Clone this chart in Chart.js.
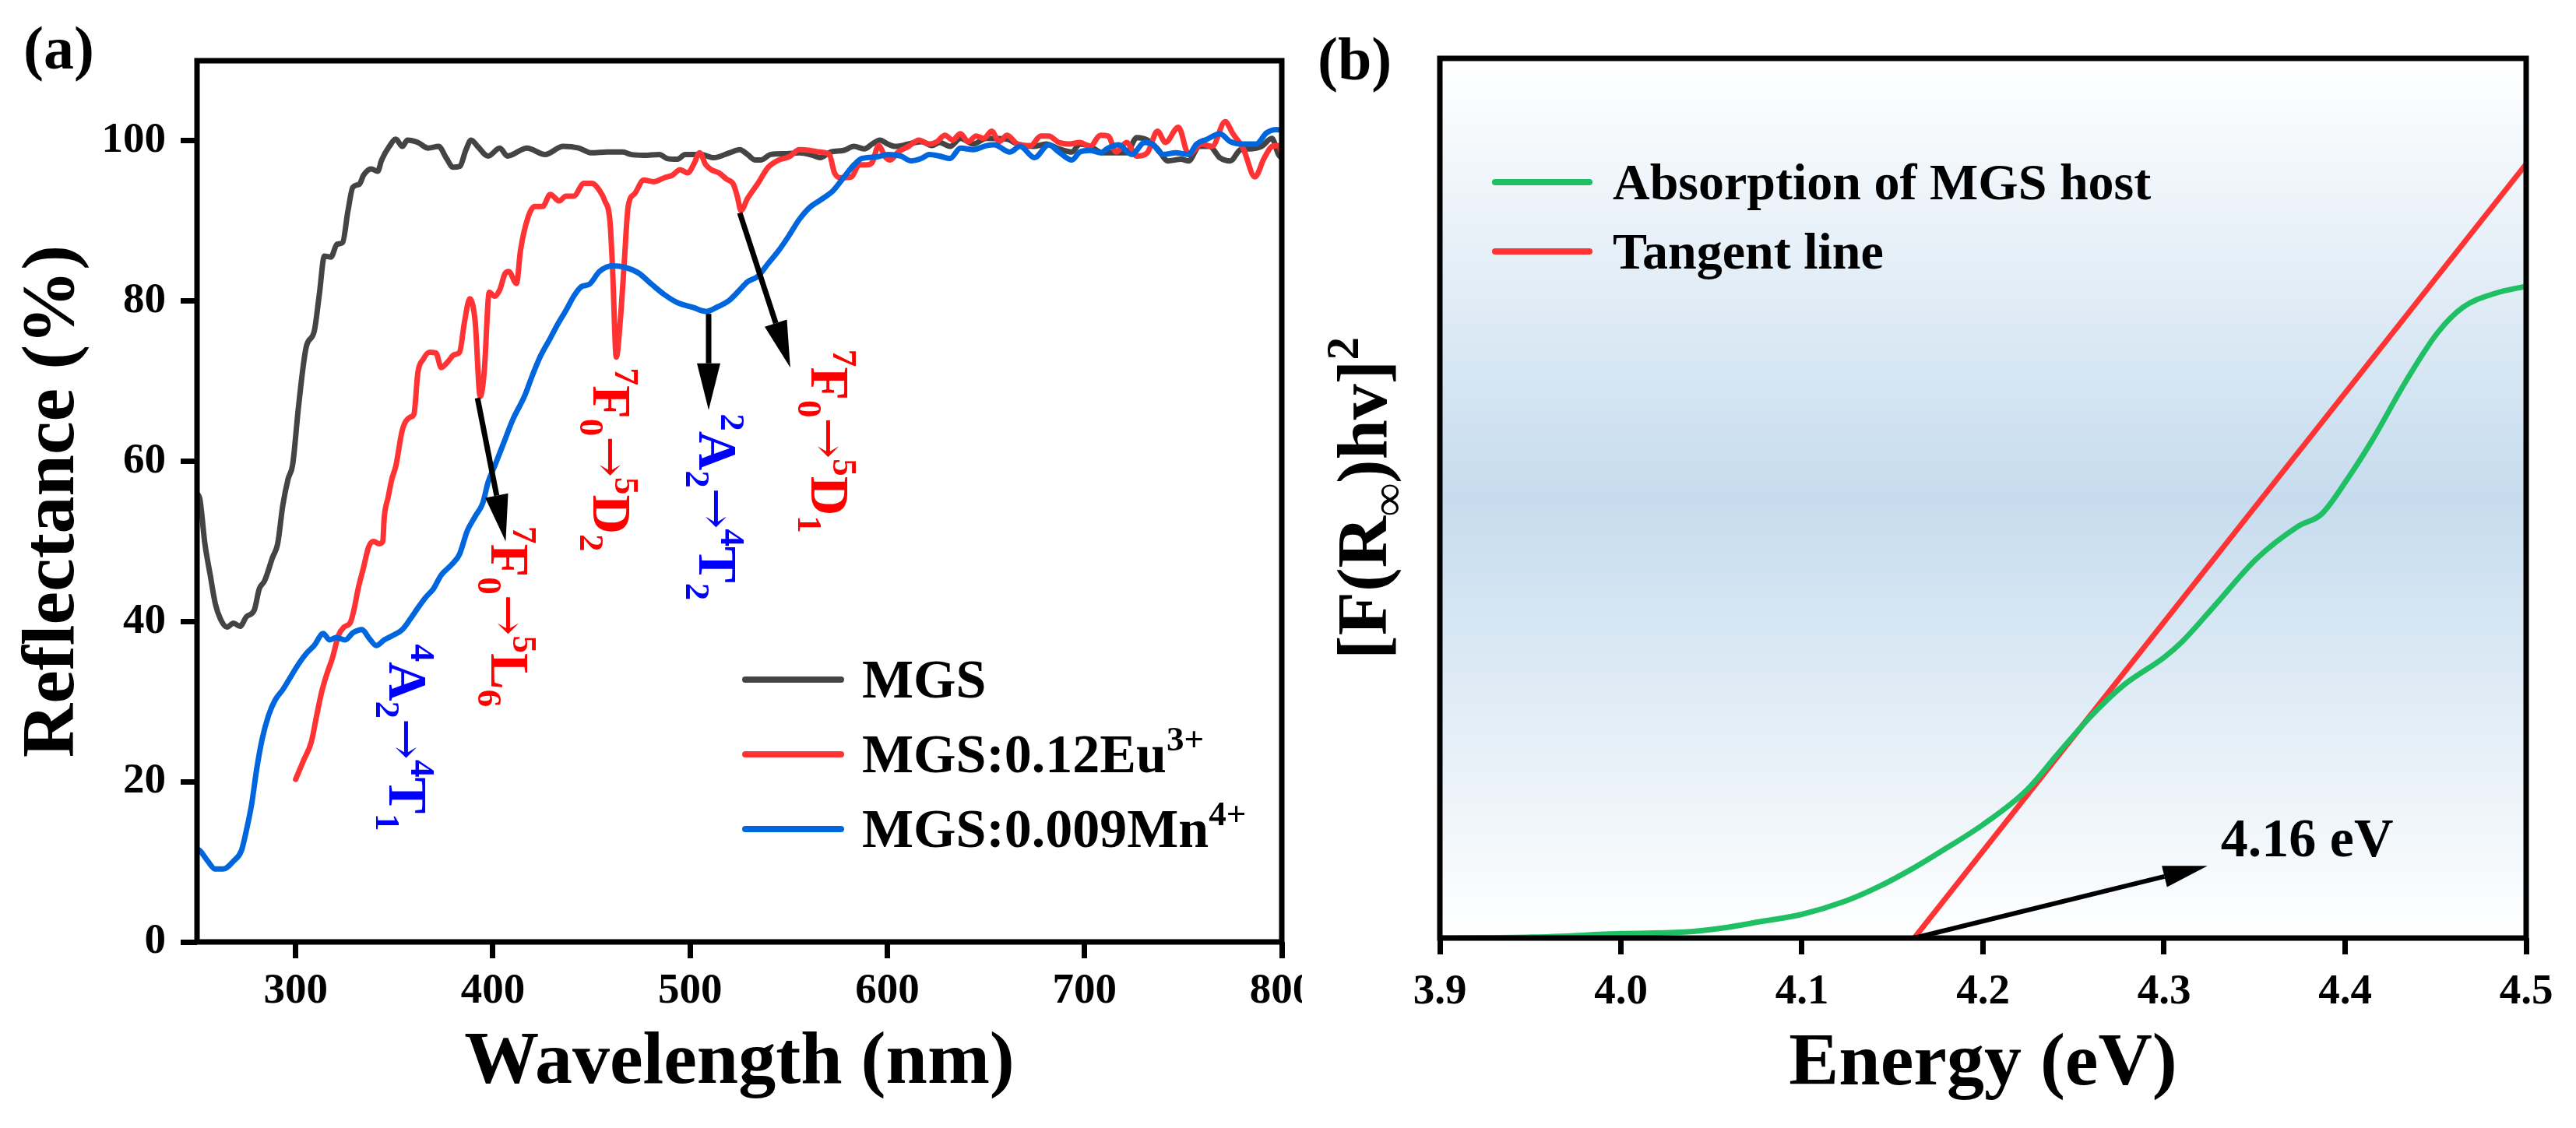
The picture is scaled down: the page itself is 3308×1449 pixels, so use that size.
<!DOCTYPE html>
<html>
<head>
<meta charset="utf-8">
<title>MGS reflectance and band gap</title>
<script src="https://cdn.jsdelivr.net/npm/chart.js@4.4.1/dist/chart.umd.min.js"></script>
<style>
  body { margin: 0; background: #fff; }
  #wrap { position: relative; width: 3308px; height: 1449px; overflow: hidden; }
  .panel { position: absolute; top: 0; height: 1449px; }
</style>
</head>
<body>
<div id="wrap">
  <div class="panel" style="left:0; width:1672px;"><canvas id="chartA"></canvas></div>
  <div class="panel" style="left:1672px; width:1636px;"><canvas id="chartB"></canvas></div>
</div>
<script>
const SERIF = "'Liberation Serif', 'Times New Roman', Times, serif";
const ARROW_FONT = "'DejaVu Serif', 'DejaVu Sans', serif";

// ---- (a) diffuse reflectance ----
const mgsWl = [250, 251.5, 254, 256.7, 259.3, 261.9, 265.2, 268.5, 271.8, 275.1, 279, 281.6, 284.3, 288.3, 290.9,
  293.5, 296.2, 298.5, 301.5, 305.4, 309.4, 312, 314.6, 317.9, 321, 323.8, 326.5, 329, 332.4, 334.4, 338.3, 341.6,
  343.6, 347.5, 350.8, 354.1, 356.7, 362, 367.2, 372.5, 376.5, 379.8, 383.1, 386.4, 389, 392.3, 397.6, 403.5, 407.4,
  417.3, 426.5, 435.6, 443.5, 450.1, 458, 466, 469.9, 476.5, 484.4, 488.3, 493.6, 497.5, 505.4, 512, 519.9, 525.2,
  529.1, 533.1, 535.7, 541, 548.9, 555.4, 562, 566, 571.2, 577.8, 583.1, 588.3, 592.3, 596.2, 600.2, 604.1, 610.7,
  617.3, 622.6, 626.5, 631.8, 637.1, 643.6, 650.2, 660.7, 666, 674, 680.5, 687, 693.6, 697.6, 702.8, 709.4, 716,
  721.3, 726.5, 731.8, 737, 742.3, 748.9, 752.8, 758.1, 763.4, 768.6, 773.9, 779.2, 784.4, 789.7, 795, 798.3, 800];
const mgsR = [56.0, 55.2, 49.7, 45.8, 42.2, 40.3, 39.3, 39.8, 39.4, 40.6, 41.4, 44.1, 45.1, 48.0, 49.7,
  54.5, 57.8, 59.6, 66.9, 74.3, 76.2, 80.8, 85.6, 85.5, 87.1, 87.3, 91.2, 94.2, 94.6, 95.7, 96.5, 96.2,
  97.6, 99.3, 100.2, 99.3, 100.1, 99.8, 99.1, 99.3, 97.8, 96.7, 96.8, 98.9, 100.1, 99.3, 98.1, 99.1, 98.1,
  99.1, 98.3, 99.3, 99.1, 98.5, 98.6, 98.6, 98.3, 98.2, 98.3, 97.8, 97.7, 98.3, 98.3, 97.9, 98.5, 98.9,
  98.3, 97.6, 97.6, 98.3, 98.4, 98.5, 98.2, 97.9, 98.6, 98.8, 99.3, 99.0, 99.6, 100.1, 99.6, 99.3, 99.6,
  99.9, 99.4, 99.8, 99.3, 100.3, 99.6, 100.3, 100.2, 99.6, 99.3, 99.6, 99.0, 98.6, 99.6, 99.3, 98.5, 98.5,
  98.5, 100.4, 100.1, 99.0, 97.5, 97.7, 97.5, 99.3, 99.3, 97.9, 97.5, 98.9, 99.0, 99.3, 100.3, 98.3, 97.8];

const euWl = [300, 304.1, 308, 310.7, 313.2, 315.9, 318.6, 321.8, 324.5, 327.8, 329.7, 331.7, 334.4, 337, 339.6,
  342.3, 344.2, 344.9, 346.9, 348.8, 350.8, 354.1, 358.1, 360, 362, 364.6, 367.9, 371.2, 373.8, 377.1, 380.4,
  383.1, 385.7, 388.3, 391, 393.6, 395.6, 398.2, 400.9, 403.5, 406.1, 408, 412, 414, 417.9, 421.2, 425.2, 429.1,
  433.7, 437, 441, 446.2, 450.2, 454.1, 456.8, 459.4, 460.7, 462.6, 464.6, 466.6, 468.6, 471.9, 476.5, 481.7,
  487, 491, 494.9, 498.8, 502.1, 504.8, 508, 510.7, 514.6, 518.6, 521.9, 523.9, 525.8, 529.1, 534.4, 539.6,
  544.9, 550.2, 555.4, 560.7, 566, 570.6, 573.2, 576.5, 581.8, 585.7, 589.7, 592.3, 595.6, 598.9, 601.5, 605.5,
  610.7, 616, 621.3, 625.2, 629.2, 633.1, 637.1, 641, 645, 648.9, 652.9, 656.8, 660.7, 666, 672.6, 677.8, 681.8,
  687, 692.3, 697.6, 702.8, 708.1, 712, 716, 721.3, 726.5, 731.8, 737, 741, 747.6, 752.8, 759.4, 764.7, 771.3,
  775.2, 780.5, 786.4, 791, 795.1, 798.4, 800];
const euR = [20.3, 22.7, 25.0, 28.3, 31.2, 33.5, 35.4, 38.3, 39.3, 39.9, 41.6, 44.1, 46.7, 49.3, 50.0,
  49.7, 50.0, 52.9, 55.5, 57.8, 59.4, 63.9, 65.5, 65.9, 71.1, 72.7, 73.6, 73.5, 71.7, 72.4, 73.3,
  73.6, 77.5, 80.3, 77.5, 68.1, 71.1, 81.1, 80.6, 81.4, 83.4, 83.7, 82.2, 86.3, 90.5, 91.8, 91.8, 93.3,
  92.5, 93.1, 93.1, 94.7, 94.7, 93.8, 92.5, 89.9, 84.0, 73.0, 77.5, 84.7, 91.8, 93.4, 95.1, 94.9,
  95.4, 95.7, 96.4, 96.0, 97.2, 98.5, 97.0, 96.4, 96.0, 95.2, 94.6, 93.1, 91.3, 92.8, 94.7, 96.7,
  97.6, 98.0, 98.9, 98.8, 98.6, 98.3, 96.0, 95.4, 95.5, 97.0, 97.0, 97.3, 99.4, 98.0, 97.6, 98.6,
  99.3, 100.1, 99.6, 99.9, 100.7, 100.1, 100.9, 99.9, 100.6, 100.3, 101.2, 99.9, 100.7, 99.6, 99.4, 100.6, 100.6,
  99.8, 99.6, 99.8, 99.3, 100.7, 100.6, 98.6, 99.8, 98.1, 98.5, 101.2, 99.8, 101.7, 98.3, 99.6, 99.3, 102.4,
  100.9, 99.0, 95.5, 97.8, 99.3, 99.4, 98.5];

const mnWl = [250, 251.5, 255.4, 259.3, 263.3, 268.5, 272.5, 275.1, 277.7, 280.4, 283, 286.3, 289.6, 293.5, 297.5,
  301.5, 305.4, 309.4, 314, 317.2, 320.5, 325.1, 329.1, 333.7, 337, 340.9, 344.9, 348.8, 354.1, 358.1, 362,
  365.9, 369.9, 373.8, 379.1, 383.1, 387, 391, 394.9, 397.6, 400.9, 405.5, 410.1, 416, 420, 423.9, 429.2, 433.1,
  437, 441, 444.9, 448.9, 454.1, 460.7, 467.3, 473.9, 480.5, 487, 493.6, 501.5, 508, 513.3, 519.9, 525.2, 529.1,
  534.4, 539.6, 544.9, 550.2, 555.4, 560.7, 566, 572.6, 577.8, 583.1, 587, 594.9, 600.2, 606.8, 612, 617.3, 621.3,
  626.5, 631.8, 637.1, 643.6, 650.2, 654.2, 662.1, 667.3, 674.6, 681.8, 687, 693.6, 697.6, 702.8, 708.1, 712,
  717.3, 723.9, 730.5, 734.4, 739.7, 746.3, 752.8, 756.8, 762.1, 768.6, 773.9, 779.2, 787, 792.3, 797.5, 800];
const mnR = [11.6, 11.4, 10.1, 9.1, 9.1, 10.1, 11.4, 14.0, 17.2, 21.8, 25.3, 28.3, 30.2, 31.5, 33.1,
  34.7, 36.0, 37.0, 38.5, 37.7, 38.0, 37.7, 38.6, 39.0, 38.0, 37.0, 37.7, 38.2, 39.0, 40.3, 41.7,
  43.0, 44.1, 45.8, 47.1, 48.4, 51.3, 53.1, 54.8, 57.4, 59.4, 62.3, 65.2, 68.1, 70.7, 73.0, 75.4, 77.2,
  78.8, 80.6, 81.8, 82.1, 83.7, 84.4, 84.2, 83.5, 82.1, 80.8, 79.8, 79.2, 78.7, 79.2, 80.1, 81.4, 82.4,
  83.1, 84.7, 86.3, 88.2, 90.2, 91.7, 92.6, 93.8, 95.4, 97.0, 97.8, 98.0, 98.3, 98.1, 97.5, 97.8, 98.3,
  98.1, 97.8, 99.1, 98.9, 99.4, 99.5, 98.6, 99.3, 97.9, 99.5, 98.6, 97.6, 98.6, 98.8, 98.5, 99.1,
  99.5, 98.3, 99.8, 99.6, 98.3, 98.5, 98.3, 99.6, 100.2, 100.9, 99.9, 99.6, 99.6, 101.0, 101.4, 101.3];

const wlTicks = [300, 400, 500, 600, 700, 800];
const reflTicks = [0, 20, 40, 60, 80, 100];

// ---- (b) Kubelka-Munk plot, arbitrary units ----
const hostE = [3.9, 3.951, 4.0, 4.037, 4.055, 4.078, 4.1, 4.124, 4.142, 4.162, 4.178, 4.2, 4.224, 4.242, 4.26,
  4.278, 4.3, 4.31, 4.328, 4.351, 4.374, 4.387, 4.401, 4.415, 4.433, 4.451, 4.465, 4.483, 4.5];
const hostF = [0, 0.001, 0.005, 0.007, 0.011, 0.019, 0.027, 0.042, 0.058, 0.080, 0.100, 0.129, 0.168, 0.211, 0.253,
  0.288, 0.319, 0.337, 0.378, 0.431, 0.468, 0.482, 0.521, 0.566, 0.631, 0.688, 0.717, 0.733, 0.741];
const tangentE = [4.162, 4.5];
const tangentF = [0, 0.88];
const energyTicks = [3.9, 4.0, 4.1, 4.2, 4.3, 4.4, 4.5];

// labels drawn on top of the plots (data units)
const transitionsA = [
  { text: '^4A_2→^4T_1', x: 356.6, y: 25.5, color: '#0000ff' },
  { text: '^7F_0→^5L_6', x: 408.3, y: 40.6, color: '#ff0000' },
  { text: '^7F_0→^5D_2', x: 460.0, y: 60.2, color: '#ff0000' },
  { text: '^2A_2→^4T_2', x: 513.7, y: 54.3, color: '#0000ff' },
  { text: '^7F_0→^5D_1', x: 570.6, y: 62.5, color: '#ff0000' }
];
const arrowsA = [
  { from: [392.2, 67.9], to: [406.5, 50.0] },
  { from: [509.4, 78.4], to: [509.4, 66.4] },
  { from: [525.2, 91.0], to: [550.8, 71.7] }
];
const labelsB = [{ text: '4.16 eV', x: 4.379, y: 0.113, color: '#000' }];
const arrowsB = [{ from: [4.162, 0.0], to: [4.324, 0.082] }];

const toXY = (xs, ys) => xs.map((x, i) => ({ x: x, y: ys[i] }));

// "^" = superscript, "_" = subscript, braces group several chars
function parseRich(str) {
  const parts = [];
  let i = 0;
  while (i < str.length) {
    const c = str[i];
    if (c === '^' || c === '_') {
      const mode = c === '^' ? 'sup' : 'sub';
      i++;
      let t;
      if (str[i] === '{') {
        const j = str.indexOf('}', i);
        t = str.slice(i + 1, j);
        i = j + 1;
      } else {
        t = str[i];
        i++;
      }
      parts.push({ t: t, mode: mode });
    } else if (c === '→') {
      parts.push({ t: c, mode: 'arrow' });
      i++;
    } else {
      let j = i;
      while (j < str.length && !'^_→'.includes(str[j])) j++;
      parts.push({ t: str.slice(i, j), mode: '' });
      i = j;
    }
  }
  return parts;
}

function drawRich(ctx, str, x, y, opts) {
  const size = opts.size;
  const weight = opts.weight || 'bold';
  const parts = parseRich(str);
  const small = Math.round(size * 0.64);
  const fontFor = p => {
    if (p.mode === 'arrow') return `normal ${Math.round(size * 0.9)}px ${ARROW_FONT}`;
    return `${weight} ${p.mode ? small : size}px ${SERIF}`;
  };
  ctx.save();
  ctx.translate(x, y);
  ctx.rotate(opts.rotation || 0);
  let w = 0;
  parts.forEach(p => {
    ctx.font = fontFor(p);
    p.w = ctx.measureText(p.t).width;
    w += p.w;
  });
  let cx = opts.align === 'left' ? 0 : -w / 2;
  const base = size * 0.33;
  ctx.fillStyle = opts.color || '#000';
  ctx.textBaseline = 'alphabetic';
  ctx.textAlign = 'left';
  parts.forEach(p => {
    ctx.font = fontFor(p);
    let dy = 0;
    if (p.mode === 'sup') dy = -size * 0.4;
    else if (p.mode === 'sub') dy = size * 0.24;
    else if (p.mode === 'arrow') dy = -size * 0.02;
    ctx.fillText(p.t, cx, base + dy);
    cx += p.w;
  });
  ctx.restore();
}

function drawArrow(ctx, x1, y1, x2, y2, o) {
  const ang = Math.atan2(y2 - y1, x2 - x1);
  const bx = x2 - o.head * Math.cos(ang);
  const by = y2 - o.head * Math.sin(ang);
  const hw = o.headWidth / 2;
  ctx.save();
  ctx.strokeStyle = '#000';
  ctx.fillStyle = '#000';
  ctx.lineWidth = o.width;
  ctx.beginPath();
  ctx.moveTo(x1, y1);
  ctx.lineTo(bx, by);
  ctx.stroke();
  ctx.beginPath();
  ctx.moveTo(x2, y2);
  ctx.lineTo(bx + hw * Math.sin(ang), by - hw * Math.cos(ang));
  ctx.lineTo(bx - hw * Math.sin(ang), by + hw * Math.cos(ang));
  ctx.closePath();
  ctx.fill();
  ctx.restore();
}

// plot frame on all four sides
const framePlugin = {
  id: 'frame',
  afterDatasetsDraw(chart) {
    const { ctx, chartArea: a } = chart;
    ctx.save();
    ctx.strokeStyle = '#000';
    ctx.lineWidth = 7;
    ctx.strokeRect(a.left, a.top, a.right - a.left, a.bottom - a.top);
    ctx.restore();
  }
};

// soft blue band behind panel (b)
const bandPlugin = {
  id: 'band',
  beforeDatasetsDraw(chart, args, opts) {
    if (!opts.on) return;
    const { ctx, chartArea: a } = chart;
    const g = ctx.createLinearGradient(0, a.top, 0, a.bottom);
    g.addColorStop(0, '#ffffff');
    g.addColorStop(0.5, '#c6dcee');
    g.addColorStop(1, '#ffffff');
    ctx.save();
    ctx.fillStyle = g;
    ctx.fillRect(a.left, a.top, a.right - a.left, a.bottom - a.top);
    ctx.restore();
  }
};

// legend with super/subscripts
const richLegend = {
  id: 'richLegend',
  afterDraw(chart, args, o) {
    if (!o.on) return;
    const { ctx, chartArea: a } = chart;
    chart.data.datasets.forEach((ds, i) => {
      const y = a.top + o.top + i * o.gap;
      ctx.save();
      ctx.strokeStyle = ds.borderColor;
      ctx.lineWidth = 8;
      ctx.lineCap = 'round';
      ctx.beginPath();
      ctx.moveTo(a.left + o.left, y);
      ctx.lineTo(a.left + o.left + o.lineLen, y);
      ctx.stroke();
      ctx.restore();
      drawRich(ctx, ds.label, a.left + o.left + o.lineLen + o.textGap, y, { size: o.size, align: 'left' });
    });
  }
};

// arrows, rotated transition labels, axis title and panel tag
const notes = {
  id: 'notes',
  afterDraw(chart, args, o) {
    const { ctx, chartArea: a, scales: { x, y } } = chart;
    (o.arrows || []).forEach(ar => {
      drawArrow(ctx, x.getPixelForValue(ar.from[0]), y.getPixelForValue(ar.from[1]),
        x.getPixelForValue(ar.to[0]), y.getPixelForValue(ar.to[1]), o.arrowStyle);
    });
    (o.labels || []).forEach(l => {
      drawRich(ctx, l.text, x.getPixelForValue(l.x), y.getPixelForValue(l.y),
        { size: o.labelSize, color: l.color, rotation: o.labelRotation });
    });
    if (o.yTitle) {
      drawRich(ctx, o.yTitle, a.left - o.yTitleOffset, (a.top + a.bottom) / 2,
        { size: o.yTitleSize, rotation: -Math.PI / 2 });
    }
    if (o.tag) {
      ctx.save();
      ctx.font = `bold 78px ${SERIF}`;
      ctx.fillStyle = '#000';
      ctx.textBaseline = 'alphabetic';
      ctx.fillText(o.tag.text, o.tag.x, o.tag.y);
      ctx.restore();
    }
  }
};

Chart.register(framePlugin, bandPlugin, richLegend, notes);

const tickFont = { family: SERIF, size: 55, weight: 'bold', lineHeight: 1.2 };
const titleFont = { family: SERIF, size: 96, weight: 'bold', lineHeight: 1.2 };
const noPad = s => { s.paddingLeft = 0; s.paddingRight = 0; s.paddingTop = 0; s.paddingBottom = 0; };

function lineSet(label, data, color, order) {
  return {
    label: label, data: data, borderColor: color, backgroundColor: color,
    borderWidth: 7, pointRadius: 0, cubicInterpolationMode: 'monotone',
    borderJoinStyle: 'round', borderCapStyle: 'round', order: order
  };
}

new Chart(document.getElementById('chartA'), {
  type: 'line',
  data: {
    datasets: [
      lineSet('MGS', toXY(mgsWl, mgsR), '#444444', 3),
      lineSet('MGS:0.12Eu^{3+}', toXY(euWl, euR), '#ff3333', 2),
      lineSet('MGS:0.009Mn^{4+}', toXY(mnWl, mnR), '#0066dd', 1)
    ]
  },
  options: {
    responsive: true,
    maintainAspectRatio: false,
    animation: false,
    layout: { padding: { left: 0, top: 78, right: 26, bottom: 0 } },
    plugins: {
      legend: { display: false },
      tooltip: { enabled: false },
      band: { on: false },
      richLegend: { on: true, left: 704, top: 795, gap: 96, lineLen: 123, textGap: 27, size: 70 },
      notes: {
        arrows: arrowsA,
        arrowStyle: { width: 7, head: 60, headWidth: 30 },
        labels: transitionsA,
        labelSize: 70,
        labelRotation: Math.PI / 2,
        tag: { text: '(a)', x: 30, y: 88 }
      }
    },
    scales: {
      x: {
        type: 'linear', min: 250, max: 800,
        afterBuildTicks: s => { s.ticks = wlTicks.map(v => ({ value: v })); },
        afterFit: s => { s.height = 1449 - 1210; noPad(s); },
        ticks: { color: '#000', padding: 10, font: tickFont, callback: v => String(v) },
        grid: { display: true, drawOnChartArea: false, drawTicks: true, tickLength: 21, tickWidth: 7, color: '#000' },
        border: { display: false },
        title: { display: true, text: 'Wavelength (nm)', color: '#000', font: titleFont, padding: { top: 0, bottom: 25 } }
      },
      y: {
        type: 'linear', min: 0, max: 110,
        afterBuildTicks: s => { s.ticks = reflTicks.map(v => ({ value: v })); },
        afterFit: s => { s.width = 253; noPad(s); },
        ticks: { color: '#000', padding: 19, font: tickFont, callback: v => String(v) },
        grid: { display: true, drawOnChartArea: false, drawTicks: true, tickLength: 21, tickWidth: 7, color: '#000' },
        border: { display: false },
        title: { display: true, text: 'Reflectance (%)', color: '#000', font: titleFont, padding: { top: 12, bottom: 0 } }
      }
    }
  }
});

new Chart(document.getElementById('chartB'), {
  type: 'line',
  data: {
    datasets: [
      lineSet('Absorption of MGS host', toXY(hostE, hostF), '#1fbf64', 1),
      lineSet('Tangent line', toXY(tangentE, tangentF), '#ff3333', 2)
    ]
  },
  options: {
    responsive: true,
    maintainAspectRatio: false,
    animation: false,
    layout: { padding: { left: 0, top: 75, right: 64, bottom: 0 } },
    plugins: {
      legend: { display: false },
      tooltip: { enabled: false },
      band: { on: true },
      richLegend: { on: true, left: 71, top: 159, gap: 89, lineLen: 121, textGap: 30, size: 66 },
      notes: {
        arrows: arrowsB,
        arrowStyle: { width: 6, head: 57, headWidth: 28 },
        labels: labelsB,
        labelSize: 70,
        labelRotation: 0,
        yTitle: '[F(R_∞)hv]^2',
        yTitleSize: 92,
        yTitleOffset: 99,
        tag: { text: '(b)', x: 20, y: 102 }
      }
    },
    scales: {
      x: {
        type: 'linear', min: 3.9, max: 4.5,
        afterBuildTicks: s => { s.ticks = energyTicks.map(v => ({ value: v })); },
        afterFit: s => { s.height = 1449 - 1205; noPad(s); },
        ticks: { color: '#000', padding: 16, font: tickFont, callback: v => Number(v).toFixed(1) },
        grid: { display: true, drawOnChartArea: false, drawTicks: true, tickLength: 21, tickWidth: 7, color: '#000' },
        border: { display: false },
        title: { display: true, text: 'Energy (eV)', color: '#000', font: titleFont, padding: { top: 0, bottom: 23 } }
      },
      y: {
        type: 'linear', min: 0, max: 1,
        afterFit: s => { s.width = 177; noPad(s); },
        ticks: { display: false },
        grid: { display: false },
        border: { display: false }
      }
    }
  }
});
</script>
</body>
</html>
